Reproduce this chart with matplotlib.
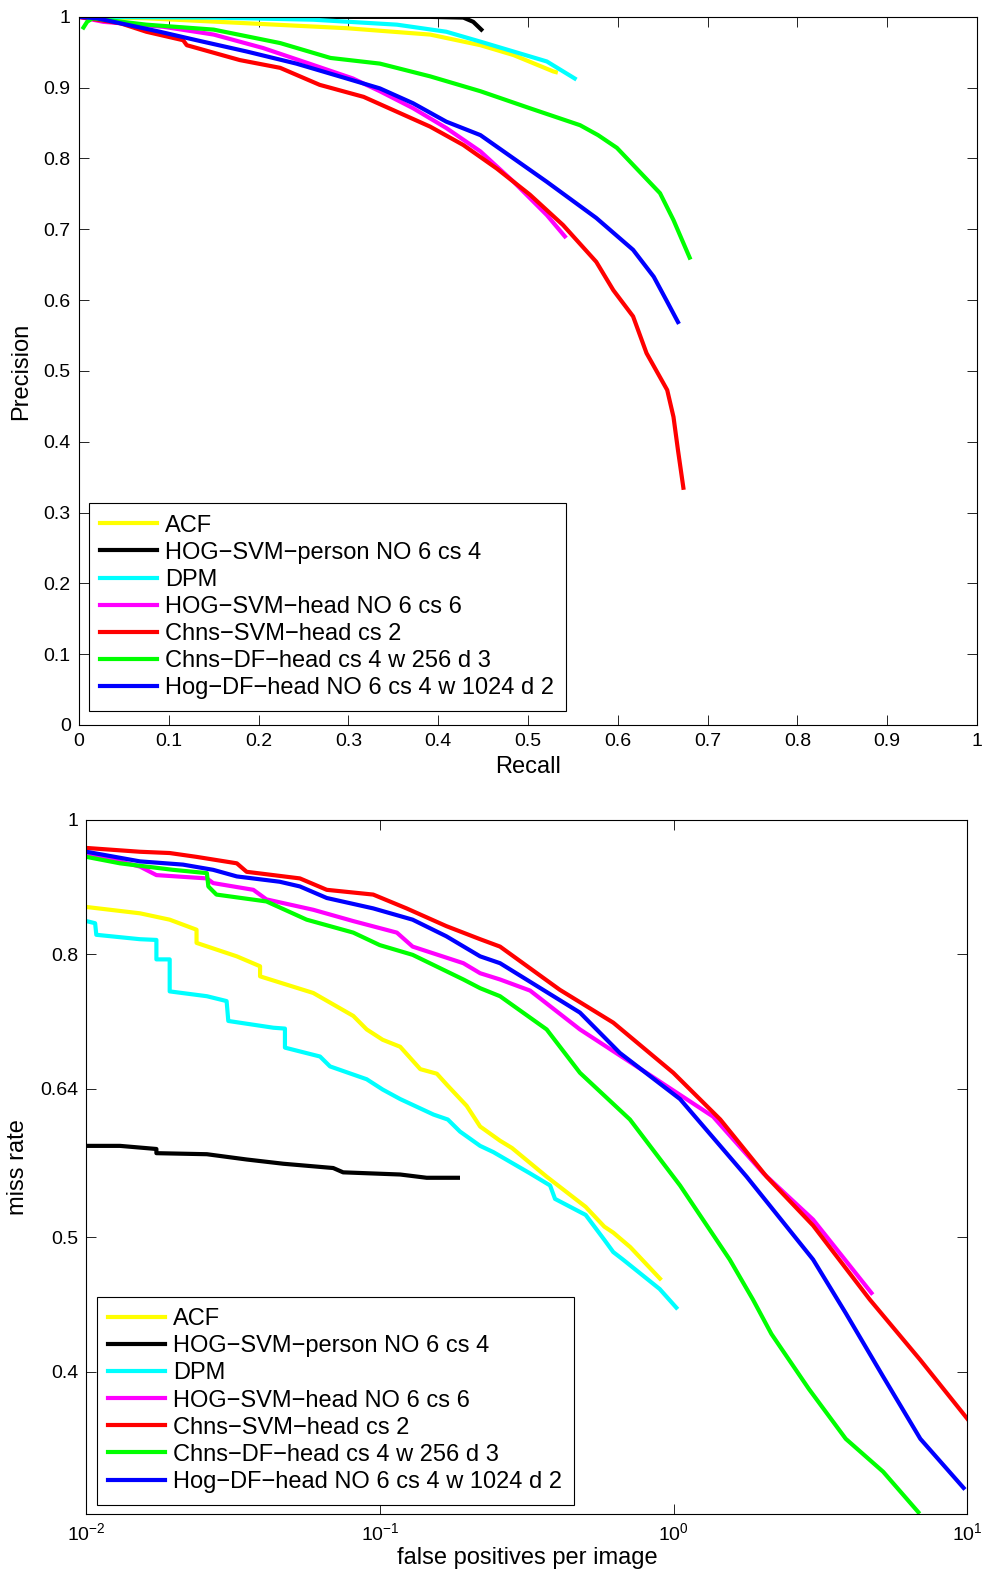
import matplotlib
matplotlib.use("Agg")
import matplotlib.pyplot as plt
from matplotlib.ticker import FixedLocator, NullLocator

plt.rcParams['font.family'] = ['Liberation Sans', 'DejaVu Sans']
plt.rcParams['mathtext.fontset'] = 'custom'
plt.rcParams['mathtext.rm'] = 'Liberation Sans'
plt.rcParams['mathtext.default'] = 'regular'

labels = ['ACF', 'HOG\u2212SVM\u2212person NO 6 cs 4', 'DPM', 'HOG\u2212SVM\u2212head NO 6 cs 6',
          'Chns\u2212SVM\u2212head cs 2', 'Chns\u2212DF\u2212head cs 4 w 256 d 3',
          'Hog\u2212DF\u2212head NO 6 cs 4 w 1024 d 2']
colors = ['#ffff00', '#000000', '#00ffff', '#ff00ff', '#ff0000', '#00ff00', '#0000ff']

# precision / recall (top)
rec_acf = [0, 0.075, 0.187, 0.298, 0.391, 0.447, 0.484, 0.528, 0.531]
prec_acf = [1, 0.998, 0.991, 0.984, 0.975, 0.960, 0.946, 0.923, 0.922]
rec_hogperson = [0, 0.391, 0.428, 0.439, 0.448]
prec_hogperson = [1, 1.0, 0.999, 0.993, 0.982]
rec_dpm = [0, 0.15, 0.261, 0.354, 0.409, 0.447, 0.484, 0.521, 0.552]
prec_dpm = [1, 0.999, 0.996, 0.989, 0.979, 0.965, 0.951, 0.937, 0.913]
rec_hoghead = [0, 0.027, 0.094, 0.150, 0.205, 0.261, 0.305, 0.335, 0.372, 0.409, 0.447,
               0.484, 0.521, 0.541]
prec_hoghead = [1, 0.993, 0.986, 0.975, 0.956, 0.932, 0.913, 0.895, 0.871, 0.843, 0.810,
                0.767, 0.720, 0.690]
rec_chnssvm = [0, 0.046, 0.075, 0.116, 0.120, 0.179, 0.224, 0.268, 0.317, 0.354, 0.391,
               0.428, 0.465, 0.502, 0.539, 0.576, 0.595, 0.617, 0.632, 0.655, 0.662, 0.667, 0.673]
prec_chnssvm = [1, 0.991, 0.979, 0.967, 0.960, 0.939, 0.928, 0.904, 0.887, 0.866, 0.845,
                0.819, 0.786, 0.749, 0.706, 0.654, 0.614, 0.577, 0.525, 0.473, 0.435, 0.388, 0.335]
rec_chnsdf = [0.005, 0.009, 0.015, 0.075, 0.150, 0.224, 0.280, 0.335, 0.391, 0.447, 0.502,
              0.558, 0.578, 0.599, 0.647, 0.662, 0.68]
prec_chnsdf = [0.985, 0.993, 0.998, 0.989, 0.982, 0.963, 0.942, 0.934, 0.916, 0.895, 0.871,
               0.847, 0.833, 0.815, 0.751, 0.713, 0.660]
rec_hogdf = [0, 0.020, 0.090, 0.131, 0.187, 0.242, 0.298, 0.335, 0.372, 0.409, 0.447, 0.484,
             0.521, 0.576, 0.617, 0.640, 0.654, 0.667]
prec_hogdf = [1, 0.998, 0.979, 0.967, 0.951, 0.934, 0.913, 0.899, 0.878, 0.852, 0.833, 0.800,
              0.767, 0.716, 0.671, 0.633, 0.600, 0.569]

# miss rate / fppi (bottom)
fppi_acf = [0.01, 0.0152, 0.0192, 0.0237, 0.0237, 0.0325, 0.039, 0.039, 0.0592, 0.0810, 0.090,
            0.102, 0.117, 0.137, 0.156, 0.170, 0.197, 0.219, 0.256, 0.281, 0.369, 0.501, 0.580,
            0.622, 0.711, 0.897]
mr_acf = [0.865, 0.856, 0.847, 0.833, 0.815, 0.797, 0.784, 0.771, 0.750, 0.722, 0.706,
          0.694, 0.686, 0.661, 0.656, 0.643, 0.622, 0.601, 0.587, 0.580, 0.553, 0.526, 0.509,
          0.504, 0.492, 0.467]
fppi_hogperson = [0.01, 0.013, 0.0173, 0.0173, 0.0257, 0.0351, 0.0468, 0.0692, 0.0748, 0.117, 0.144, 0.184]
mr_hogperson = [0.582, 0.582, 0.579, 0.575, 0.574, 0.569, 0.565, 0.561, 0.557, 0.555, 0.552, 0.552]
fppi_dpm = [0.01, 0.0107, 0.0108, 0.0152, 0.0173, 0.0173, 0.0192, 0.0192, 0.0257, 0.030,
            0.0304, 0.0433, 0.0474, 0.0474, 0.0624, 0.0675, 0.090, 0.102, 0.117, 0.152,
            0.170, 0.187, 0.219, 0.243, 0.324, 0.379, 0.394, 0.501, 0.580, 0.622, 0.671,
            0.895, 1.02]
mr_dpm = [0.845, 0.842, 0.826, 0.820, 0.819, 0.793, 0.793, 0.752, 0.746, 0.740,
          0.716, 0.708, 0.707, 0.685, 0.675, 0.664, 0.650, 0.639, 0.629, 0.613,
          0.608, 0.596, 0.582, 0.576, 0.556, 0.545, 0.533, 0.519, 0.498, 0.488, 0.482,
          0.459, 0.445]
fppi_hoghead = [0.01, 0.0152, 0.0173, 0.0257, 0.027, 0.0370, 0.041, 0.0592, 0.0810, 0.114, 0.129,
                0.192, 0.219, 0.256, 0.324, 0.479, 0.807, 1.36, 2.02, 2.98, 4.71]
mr_hoghead = [0.946, 0.925, 0.912, 0.907, 0.900, 0.890, 0.876, 0.861, 0.845, 0.829, 0.810,
              0.788, 0.775, 0.767, 0.753, 0.706, 0.657, 0.611, 0.556, 0.515, 0.456]
fppi_chnssvm = [0.01, 0.0152, 0.0192, 0.0237, 0.0325, 0.0351, 0.0533, 0.0658, 0.0947, 0.123, 0.168,
                0.219, 0.256, 0.409, 0.622, 0.996, 1.44, 2.07, 2.98, 4.65, 6.91, 10]
mr_chnssvm = [0.954, 0.948, 0.946, 0.940, 0.930, 0.917, 0.907, 0.890, 0.883, 0.863, 0.838,
              0.820, 0.810, 0.754, 0.714, 0.657, 0.608, 0.553, 0.510, 0.451, 0.408, 0.37]
fppi_chnsdf = [0.01, 0.0130, 0.0197, 0.0257, 0.0260, 0.0277, 0.041, 0.0562, 0.081, 0.0997, 0.129,
               0.192, 0.219, 0.256, 0.369, 0.479, 0.709, 1.05, 1.55, 1.86, 2.15, 2.88, 3.85,
               5.16, 6.8]
mr_chnsdf = [0.940, 0.930, 0.920, 0.915, 0.895, 0.883, 0.873, 0.847, 0.829, 0.812, 0.799,
             0.767, 0.756, 0.746, 0.706, 0.657, 0.608, 0.545, 0.482, 0.451, 0.426, 0.389, 0.358,
             0.339, 0.317]
fppi_hogdf = [0.01, 0.0152, 0.0213, 0.027, 0.0325, 0.0455, 0.0533, 0.0658, 0.0947, 0.129, 0.168,
              0.219, 0.256, 0.479, 0.655, 1.05, 1.77, 2.98, 3.85, 5.16, 6.91, 9.7]
mr_hogdf = [0.948, 0.933, 0.928, 0.920, 0.910, 0.902, 0.895, 0.878, 0.863, 0.847, 0.824,
            0.797, 0.788, 0.726, 0.679, 0.629, 0.553, 0.482, 0.441, 0.397, 0.358, 0.330]

pr_data = [(rec_acf, prec_acf), (rec_hogperson, prec_hogperson), (rec_dpm, prec_dpm),
           (rec_hoghead, prec_hoghead), (rec_chnssvm, prec_chnssvm), (rec_chnsdf, prec_chnsdf),
           (rec_hogdf, prec_hogdf)]
roc_data = [(fppi_acf, mr_acf), (fppi_hogperson, mr_hogperson), (fppi_dpm, mr_dpm),
            (fppi_hoghead, mr_hoghead), (fppi_chnssvm, mr_chnssvm), (fppi_chnsdf, mr_chnsdf),
            (fppi_hogdf, mr_hogdf)]

pr_ticks = [0, 0.1, 0.2, 0.3, 0.4, 0.5, 0.6, 0.7, 0.8, 0.9, 1]
pr_ticklabels = ['0', '0.1', '0.2', '0.3', '0.4', '0.5', '0.6', '0.7', '0.8', '0.9', '1']
mr_ticks = [0.4, 0.5, 0.64, 0.8, 1]
mr_ticklabels = ['0.4', '0.5', '0.64', '0.8', '1']

LW = 3
fig = plt.figure(figsize=(9.84, 15.77), dpi=100)


def style_axes(ax):
    for sp in ax.spines.values():
        sp.set_linewidth(0.8)
    ax.tick_params(which='both', direction='in', top=True, right=True,
                   length=7, width=0.6, labelsize=14, pad=6)


def add_legend(ax, anchor):
    leg = ax.legend(loc='lower left', bbox_to_anchor=anchor, borderaxespad=0,
                    fontsize=17, handlelength=2.4, handletextpad=0.35,
                    labelspacing=0.215, borderpad=0.5, fancybox=False,
                    framealpha=1, edgecolor='black')
    leg.get_frame().set_linewidth(0.8)


ax1 = fig.add_axes([0.0803, 0.5403, 0.9126, 0.4490])
for (x, y), c, lab in zip(pr_data, colors, labels):
    ax1.plot(x, y, color=c, lw=LW, label=lab)
ax1.set_xlim(0, 1)
ax1.set_ylim(0, 1)
ax1.set_xticks(pr_ticks)
ax1.set_xticklabels(pr_ticklabels)
ax1.set_yticks(pr_ticks)
ax1.set_yticklabels(pr_ticklabels)
ax1.set_xlabel('Recall', fontsize=17, labelpad=4)
ax1.set_ylabel('Precision', fontsize=17, labelpad=8)
style_axes(ax1)
add_legend(ax1, (0.0106, 0.0198))

ax2 = fig.add_axes([0.0879, 0.0402, 0.8953, 0.4401])
for (x, y), c, lab in zip(roc_data, colors, labels):
    ax2.plot(x, y, color=c, lw=LW, label=lab)
ax2.set_xscale('log')
ax2.set_yscale('log')
ax2.set_xlim(0.01, 10)
ax2.set_ylim(10 ** -0.5, 1)
ax2.xaxis.set_minor_locator(NullLocator())
ax2.yaxis.set_minor_locator(NullLocator())
ax2.yaxis.set_major_locator(FixedLocator(mr_ticks))
ax2.set_yticklabels(mr_ticklabels)
ax2.set_xlabel('false positives per image', fontsize=17, labelpad=2)
ax2.set_ylabel('miss rate', fontsize=17, labelpad=8)
style_axes(ax2)
add_legend(ax2, (0.0114, 0.013))

fig.savefig('out.png', dpi=100)
